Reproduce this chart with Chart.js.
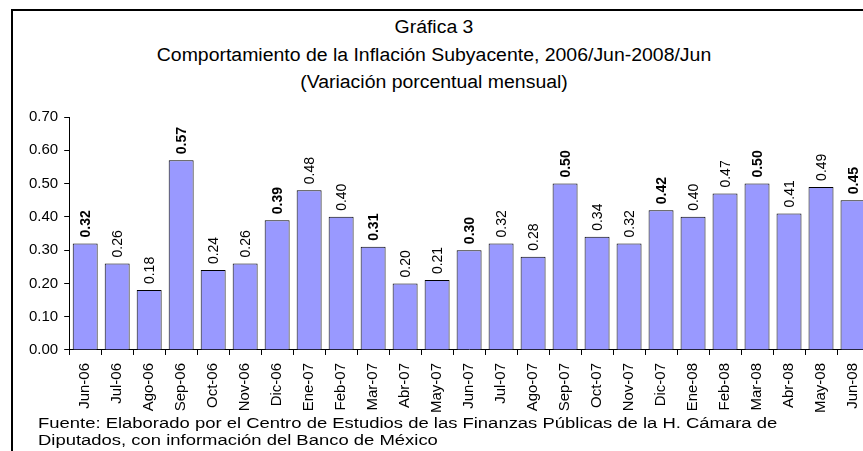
<!DOCTYPE html>
<html>
<head>
<meta charset="utf-8">
<script src="https://cdn.jsdelivr.net/npm/chart.js@4.4.0/dist/chart.umd.min.js"></script>
<style>
  html, body { margin: 0; padding: 0; background: #fff; }
  #wrap { position: relative; width: 863px; height: 451px; overflow: hidden; font-family: 'Liberation Sans', Arial, sans-serif; }
  #frame { position: absolute; left: 11px; top: 9px; width: 1000px; height: 1000px; border-top: 2px solid #000; border-left: 2px solid #000; }
  #chartBox { position: absolute; left: 0; top: 0; width: 900px; height: 451px; }
  .title { position: absolute; left: 0; width: 868px; text-align: center; font-size: 18px; color: #000; white-space: nowrap; transform: scaleX(1.08); transform-origin: 434px 0; }
  .note { position: absolute; left: 38px; font-size: 15.5px; line-height: 17px; color: #000; white-space: nowrap; transform: scaleX(1.19); transform-origin: 0 0; }
</style>
</head>
<body>
<div id="wrap">
  <div id="frame"></div>
  <div class="title" style="top:17px">Gráfica 3</div>
  <div class="title" style="top:45px">Comportamiento de la Inflación Subyacente, 2006/Jun-2008/Jun</div>
  <div class="title" style="top:72px">(Variación porcentual mensual)</div>
  <div id="chartBox"><canvas id="chart" width="900" height="451"></canvas></div>
  <div class="note" style="top:414px">Fuente: Elaborado por el Centro de Estudios de las Finanzas Públicas de la H. Cámara de</div>
  <div class="note" style="top:431px">Diputados, con información del Banco de México</div>
</div>
<script>
const meses = ['Jun-06', 'Jul-06', 'Ago-06', 'Sep-06', 'Oct-06', 'Nov-06', 'Dic-06', 'Ene-07', 'Feb-07',
  'Mar-07', 'Abr-07', 'May-07', 'Jun-07', 'Jul-07', 'Ago-07', 'Sep-07', 'Oct-07', 'Nov-07', 'Dic-07',
  'Ene-08', 'Feb-08', 'Mar-08', 'Abr-08', 'May-08', 'Jun-08'];
const inflacion = [0.32, 0.26, 0.18, 0.57, 0.24, 0.26, 0.39, 0.48, 0.40, 0.31, 0.20, 0.21, 0.30,
  0.32, 0.28, 0.50, 0.34, 0.32, 0.42, 0.40, 0.47, 0.50, 0.41, 0.49, 0.45];
const yTicks = [0, 0.1, 0.2, 0.3, 0.4, 0.5, 0.6, 0.7];

const font = 'Liberation Sans';

// etiquetas verticales encima de cada barra (las de fin de trimestre en negrita)
const barLabels = {
  id: 'barLabels',
  afterDatasetsDraw(chart) {
    const ctx = chart.ctx;
    const meta = chart.getDatasetMeta(0);
    meta.data.forEach((bar, i) => {
      ctx.save();
      ctx.translate(bar.x, bar.y - 6);
      ctx.rotate(-Math.PI / 2);
      ctx.font = (i % 3 === 0 ? 'bold ' : '') + '14px ' + font;
      ctx.fillStyle = '#000';
      ctx.textAlign = 'left';
      ctx.textBaseline = 'middle';
      ctx.fillText(inflacion[i].toFixed(2), 0, 1);
      ctx.restore();
    });
  }
};

new Chart(document.getElementById('chart'), {
  type: 'bar',
  data: {
    labels: meses,
    datasets: [{
      data: inflacion,
      backgroundColor: '#9999ff',
      borderColor: '#000',
      borderWidth: 1,
      barPercentage: 0.78,
      categoryPercentage: 1
    }]
  },
  options: {
    responsive: false,
    animation: false,
    layout: { padding: { top: 117, left: 23, right: 31, bottom: 30 } },
    plugins: { legend: { display: false }, tooltip: { enabled: false } },
    scales: {
      x: {
        offset: true,
        grid: { offset: true, drawOnChartArea: false, color: '#000', tickLength: 5 },
        border: { color: '#000', width: 1 },
        ticks: { color: '#000', font: { family: font, size: 15 }, minRotation: 90, maxRotation: 90, autoSkip: false, padding: 8 }
      },
      y: {
        min: 0,
        max: 0.7,
        afterBuildTicks(axis) { axis.ticks = yTicks.map(v => ({ value: v })); },
        grid: { drawOnChartArea: false, color: '#000', tickLength: 5 },
        border: { color: '#000', width: 1 },
        ticks: { color: '#000', font: { family: font, size: 15 }, padding: 6, callback: v => v.toFixed(2) }
      }
    }
  },
  plugins: [barLabels]
});
</script>
</body>
</html>
